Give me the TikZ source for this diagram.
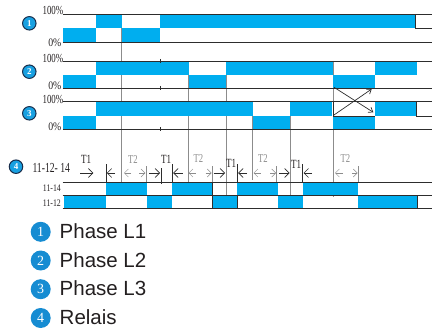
\documentclass[tikz,border=0pt]{standalone}
\usepackage{graphicx}
\usepackage{fontspec}
\setmainfont{Liberation Serif}
\newfontfamily\legendfont{Liberation Sans}
\usetikzlibrary{arrows.meta}
\definecolor{bar}{RGB}{0,174,239}
\definecolor{dot}{RGB}{24,160,225}
\definecolor{ldot}{RGB}{22,140,210}
\definecolor{ring}{RGB}{25,45,75}
\definecolor{ln}{RGB}{45,45,45}
\definecolor{gridc}{RGB}{140,140,140}
\definecolor{tgray}{RGB}{140,140,140}
\definecolor{txt}{RGB}{35,31,32}
\newcommand{\condtxt}[2]{\scalebox{#1}[1]{#2}}
\tikzset{
  rowline/.style={draw=ln, line width=0.8pt},
  gline/.style={draw=gridc, line width=0.7pt},
  smalldot/.style={circle, fill=dot, draw=ring, line width=1pt, minimum size=13.5pt, inner sep=0pt,
     text=white, font=\fontsize{9}{9}\selectfont\bfseries},
  bigdot/.style={circle, fill=ldot, minimum size=20pt, inner sep=0pt,
     text=white, font=\fontsize{14}{14}\selectfont},
  pct/.style={inner sep=0pt, anchor=base east, font=\fontsize{12.3}{12.3}\selectfont, text=txt},
  tlab/.style={inner sep=0pt, anchor=base, font=\fontsize{12.5}{12.5}\selectfont, text=txt},
  tlabg/.style={inner sep=0pt, anchor=base, font=\fontsize{12}{12}\selectfont, text=tgray},
  legtxt/.style={inner sep=0pt, anchor=base west, font=\legendfont\fontsize{20.5}{20.5}\selectfont, text=txt},
  barb/.style={-{Straight Barb[length=4.5pt,width=9pt]}, line width=0.6pt, draw=ln},
  gbarb/.style={-{Straight Barb[length=4pt,width=8pt]}, line width=0.5pt, draw=tgray},
}
\begin{document}
\begin{tikzpicture}[x=1pt,y=-1pt]
\useasboundingbox (0,0) rectangle (434,329);

% grid lines (behind bars)
\draw[gline] (121.7,14.5) -- (121.7,182);
\draw[gline] (188.3,61) -- (188.3,182);
\draw[gline] (226,61) -- (226,195.5);
\draw[gline] (252.7,101.7) -- (252.7,180);
\draw[gline] (290,101.7) -- (290,195.5);
\draw[gline] (333.3,61) -- (333.3,197);

% ---------- Row 1 ----------
\fill[bar] (62.7,28.5) rectangle (96,42);
\fill[bar] (121.7,28.5) rectangle (160.3,42);
\fill[bar] (96,14.5) rectangle (121.7,28.5);
\fill[bar] (160.3,14.5) rectangle (415.7,28.5);
\draw[rowline] (62.7,14.5) -- (432,14.5);
\draw[rowline] (62.7,42) -- (432,42);
\draw[rowline] (415.7,14.5) -- (415.7,28.5) -- (432,28.5);

% ---------- Row 2 ----------
\fill[bar] (62.7,74.7) rectangle (96,88);
\fill[bar] (188.7,74.7) rectangle (225.7,88);
\fill[bar] (333.3,74.7) rectangle (374.5,88);
\fill[bar] (96,61) rectangle (188.7,74.7);
\fill[bar] (225.7,61) rectangle (333.3,74.7);
\fill[bar] (374.5,61) rectangle (416.7,74.7);
\draw[rowline] (62.7,61) -- (432,61);
\draw[rowline] (62.7,88) -- (432,88);

% ---------- Row 3 ----------
\fill[bar] (62.7,116) rectangle (96,129.3);
\fill[bar] (253.3,116) rectangle (290,129.3);
\fill[bar] (333.3,116) rectangle (374.5,129.3);
\fill[bar] (96,101.7) rectangle (253.3,116);
\fill[bar] (290,101.7) rectangle (332.3,116);
\fill[bar] (374.5,101.7) rectangle (416.7,116);
\draw[rowline] (62.7,101.7) -- (432,101.7);
\draw[rowline] (62.7,129.3) -- (432,129.3);
\draw[rowline] (333.3,101.7) -- (333.3,116) -- (374.5,116);
\draw[rowline] (416.7,101.7) -- (416.7,116) -- (432,116);

% small ticks
\draw[ln, line width=0.6pt] (160.3,59) -- (160.3,63);
\draw[ln, line width=0.6pt] (160.3,86) -- (160.3,90);
\draw[ln, line width=0.6pt] (160.3,127.3) -- (160.3,131.3);

% crossing arrows
\coordinate (xa1) at (334,87.3);
\coordinate (xa2) at (373.3,112.3);
\coordinate (xb1) at (334,115);
\coordinate (xb2) at (371.7,89);
\draw[-{Straight Barb[length=4pt,width=6pt]}, line width=0.7pt, draw=ln] (xa1) -- (xa2);
\draw[-{Straight Barb[length=4pt,width=6pt]}, line width=0.7pt, draw=ln] (xb1) -- (xb2);

% ---------- Row 4 ----------
\fill[bar] (64,195.5) rectangle (106,208.7);
\fill[bar] (147,195.5) rectangle (172.3,208.7);
\fill[bar] (212.3,195.5) rectangle (237.3,208.7);
\fill[bar] (277.7,195.5) rectangle (302.7,208.7);
\fill[bar] (357.7,195.5) rectangle (417.3,208.7);
\fill[bar] (106,182) rectangle (147,195.5);
\fill[bar] (172.3,182) rectangle (212.3,195.5);
\fill[bar] (237.3,182) rectangle (277.7,195.5);
\fill[bar] (302.7,182) rectangle (357.7,195.5);
\draw[rowline] (62.7,182) -- (432,182);
\draw[rowline] (62.7,195.5) -- (432,195.5);
\draw[ln, line width=1.2pt] (62.7,208.7) -- (432,208.7);
\draw[rowline] (417.3,195.5) -- (417.3,208.7);
\draw[rowline] (212.3,182) -- (212.3,208.7);
\draw[rowline] (237.3,195.5) -- (237.3,208.7);

% T1 / T2 annotations
\foreach \r in {106,172.3,237.3,302.7} \draw[ln, line width=0.6pt] (\r,164) -- (\r,182);
\draw[ln, line width=0.6pt] (161,168) -- (161,184);
\foreach \s in {146,212.3,276.7,358.3} \draw[tgray, line width=0.5pt] (\s,166) -- (\s,182);
% black arrows
\draw[barb] (80,173) -- (93.3,173);
\draw[barb] (115,173) -- (106.8,173);
\draw[barb] (149.3,173) -- (160,173);
\draw[barb] (182.7,173) -- (173.2,173);
\draw[barb] (213.5,173) -- (225,173);
\draw[barb] (247,173) -- (238.2,173);
\draw[barb] (279,173) -- (289.5,173);
\draw[barb] (312,173) -- (303.6,173);
% gray arrows
\draw[gbarb] (131,173) -- (124,173);
\draw[gbarb] (139,173) -- (145.3,173);
\draw[gbarb] (195.5,173) -- (188.5,173);
\draw[gbarb] (205.5,173) -- (211.6,173);
\draw[gbarb] (260.5,173) -- (253.5,173);
\draw[gbarb] (270,173) -- (276,173);
\draw[gbarb] (343,173) -- (335,173);
\draw[gbarb] (352,173) -- (357.6,173);
% labels
\node[tlab] (t1a) at (86,163.3) {\condtxt{0.72}{T1}};
\node[tlab] (t1b) at (166,163.3) {\condtxt{0.72}{T1}};
\node[tlab] (t1c) at (231,167.5) {\condtxt{0.72}{T1}};
\node[tlab] (t1d) at (296,168.5) {\condtxt{0.72}{T1}};
\node[tlabg] (t2a) at (132.8,163) {\condtxt{0.72}{T2}};
\node[tlabg] (t2b) at (198.3,162.7) {\condtxt{0.72}{T2}};
\node[tlabg] (t2c) at (263,162.7) {\condtxt{0.72}{T2}};
\node[tlabg] (t2d) at (345.3,162.7) {\condtxt{0.72}{T2}};

% percent labels
\node[pct] (p1h) at (63.5,15) {\condtxt{0.72}{100\%}};
\node[pct, font=\fontsize{11.5}{11.5}\selectfont] (p1l) at (61.5,46.3) {\condtxt{0.85}{0\%}};
\node[pct] (p2h) at (63.5,62.8) {\condtxt{0.72}{100\%}};
\node[pct, font=\fontsize{11.5}{11.5}\selectfont] (p2l) at (61.5,90) {\condtxt{0.85}{0\%}};
\node[pct] (p3h) at (63.5,103) {\condtxt{0.72}{100\%}};
\node[pct, font=\fontsize{11.5}{11.5}\selectfont] (p3l) at (61.5,130.7) {\condtxt{0.85}{0\%}};

% relay labels
\node[inner sep=0pt, anchor=base west, font=\fontsize{13.8}{13.8}\selectfont, text=txt] (rl) at (32.3,172.7) {\condtxt{0.7}{11-12- 14}};
\node[pct, font=\fontsize{10}{10}\selectfont] (r14) at (61,191.8) {\condtxt{0.78}{11-14}};
\node[pct, font=\fontsize{10}{10}\selectfont] (r12) at (61,206) {\condtxt{0.78}{11-12}};

% numbered dots
\node[smalldot] (d1) at (29.3,23.3) {1};
\node[smalldot] (d2) at (29.3,71.7) {2};
\node[smalldot] (d3) at (29.3,113.3) {3};
\node[smalldot] (d4) at (16,166.7) {4};

% legend
\node[bigdot] (l1) at (40.7,231.8) {1};
\node[bigdot] (l2) at (40.7,260.5) {2};
\node[bigdot] (l3) at (40.7,289.2) {3};
\node[bigdot] (l4) at (40.7,318) {4};
\node[legtxt] (lt1) at (59.5,238.5) {Phase L1};
\node[legtxt] (lt2) at (59.5,267.2) {Phase L2};
\node[legtxt] (lt3) at (59.5,295.9) {Phase L3};
\node[legtxt] (lt4) at (59.5,324.7) {Relais};
\end{tikzpicture}
\end{document}
